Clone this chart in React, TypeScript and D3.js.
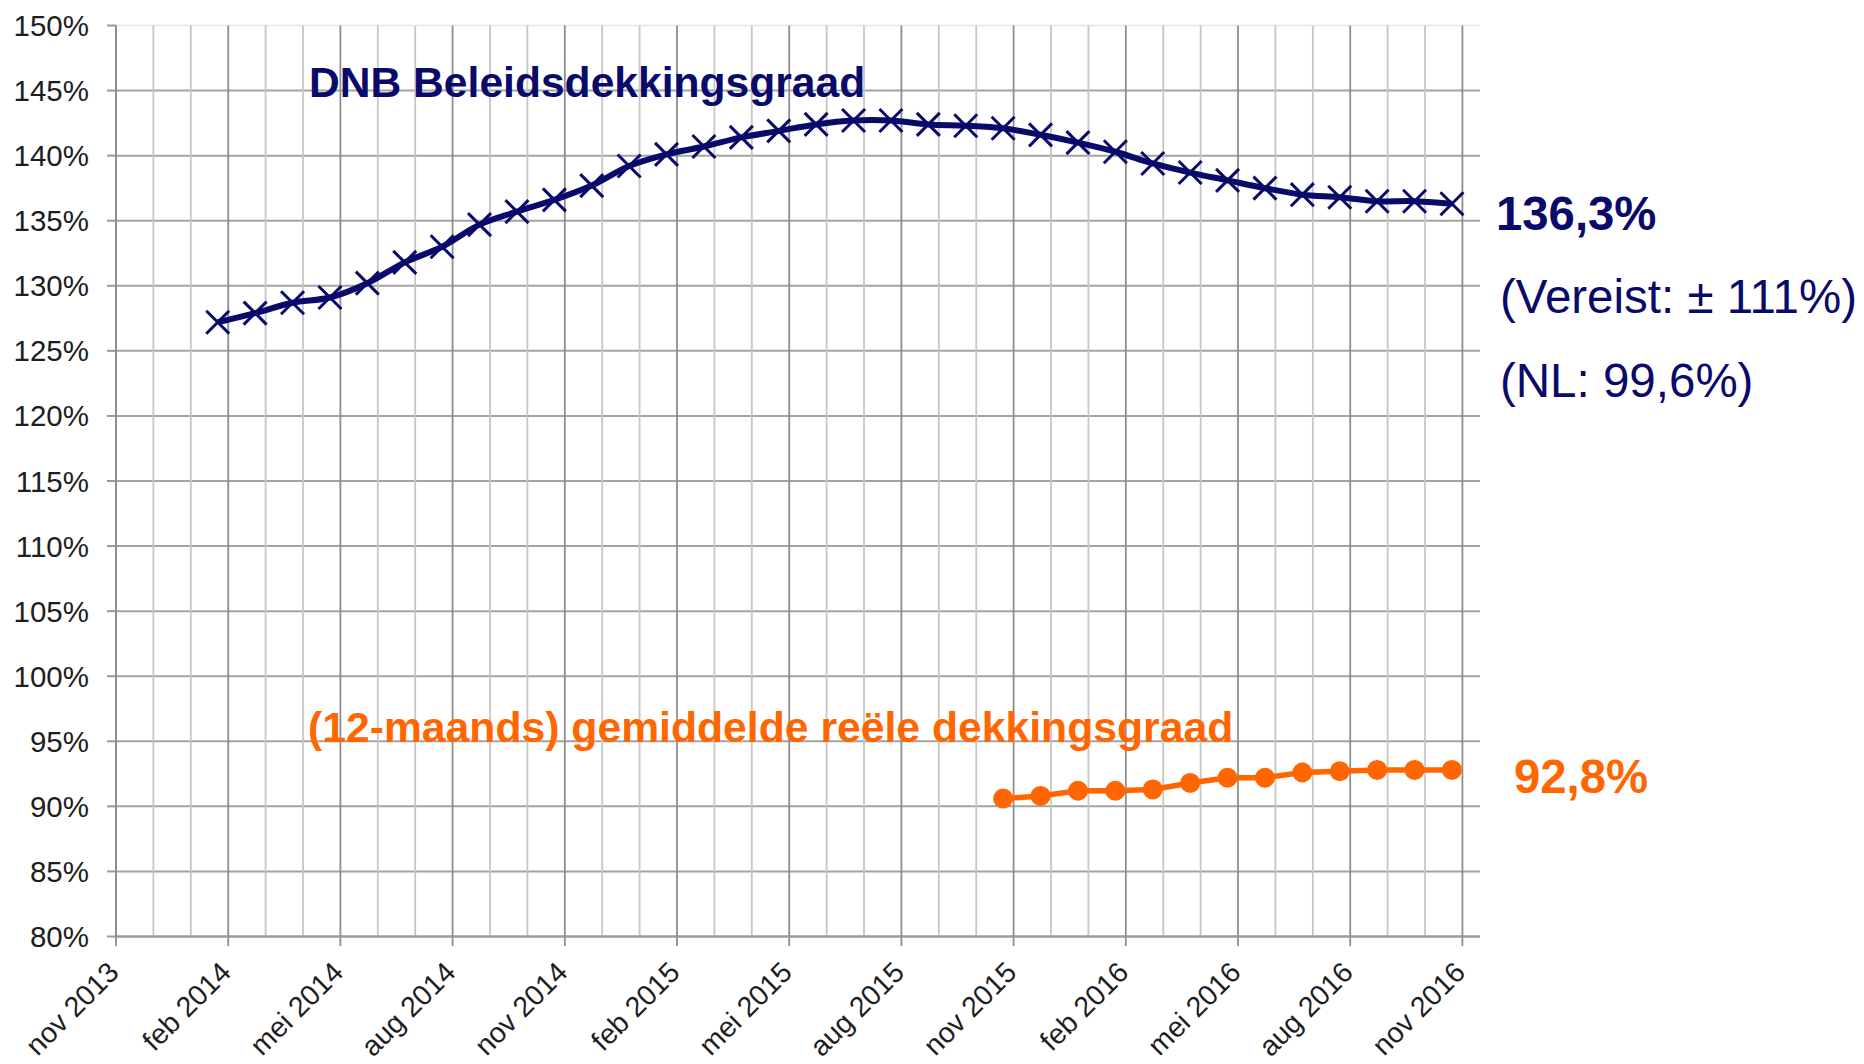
import * as d3 from 'd3'

const W = 1864
const H = 1064
const NAVY = '#0a0a6b'
const ORANGE = '#ff6600'
const FONT = "'Liberation Sans', Arial, Helvetica, sans-serif"

// month labels on the x axis (every 3 months, first = nov 2013)
const TICK_LABELS = [
  'nov 2013', 'feb 2014', 'mei 2014', 'aug 2014', 'nov 2014', 'feb 2015', 'mei 2015',
  'aug 2015', 'nov 2015', 'feb 2016', 'mei 2016', 'aug 2016', 'nov 2016'
]
const Y_TICKS = [80, 85, 90, 95, 100, 105, 110, 115, 120, 125, 130, 135, 140, 145, 150]

// DNB beleidsdekkingsgraad, jan 2014 .. okt 2016
const DNB_MONTHS = [
  '2014-01', '2014-02', '2014-03', '2014-04', '2014-05', '2014-06', '2014-07', '2014-08',
  '2014-09', '2014-10', '2014-11', '2014-12', '2015-01', '2015-02', '2015-03', '2015-04',
  '2015-05', '2015-06', '2015-07', '2015-08', '2015-09', '2015-10', '2015-11', '2015-12',
  '2016-01', '2016-02', '2016-03', '2016-04', '2016-05', '2016-06', '2016-07', '2016-08',
  '2016-09', '2016-10'
]
const DNB_VALUES = [
  127.2, 127.9, 128.7, 129.1, 130.2, 131.8, 133.0, 134.7, 135.7, 136.6, 137.7, 139.2,
  140.1, 140.7, 141.4, 141.9, 142.4, 142.7, 142.7, 142.4, 142.3, 142.1, 141.6, 141.0,
  140.3, 139.4, 138.7, 138.1, 137.5, 137.0, 136.8, 136.5, 136.5, 136.3
]

// 12-maands gemiddelde reële dekkingsgraad, okt 2015 .. okt 2016
const REAL_MONTHS = [
  '2015-10', '2015-11', '2015-12', '2016-01', '2016-02', '2016-03', '2016-04',
  '2016-05', '2016-06', '2016-07', '2016-08', '2016-09', '2016-10'
]
const REAL_VALUES = [90.6, 90.8, 91.2, 91.2, 91.3, 91.8, 92.2, 92.2, 92.6, 92.7, 92.8, 92.8, 92.8]

// points sit at ~the 22nd of their month
const POINT_POS = 0.72

// months since nov 2013
const monthIndex = (s: string) => {
  const [y, m] = s.split('-').map(Number)
  return (y - 2013) * 12 + (m - 11)
}

export default function App() {
  const x = d3.scaleLinear().domain([0, 36.47]).range([116, 1480])
  const y = d3.scaleLinear().domain([80, 150]).range([936.5, 25.5])

  const months = d3.range(0, 37)

  const dnb = DNB_MONTHS.map((m, i) => ({ x: x(monthIndex(m) + POINT_POS), y: y(DNB_VALUES[i]) }))
  const real = REAL_MONTHS.map((m, i) => ({ x: x(monthIndex(m) + POINT_POS), y: y(REAL_VALUES[i]) }))

  const smooth = d3.line<{ x: number; y: number }>()
    .x(d => d.x)
    .y(d => d.y)
    .curve(d3.curveCatmullRom.alpha(0.5))
  const straight = d3.line<{ x: number; y: number }>()
    .x(d => d.x)
    .y(d => d.y)

  const cross = d3.symbol(d3.symbolTimes, 347)()

  const [x0, x1] = x.range()
  const [yBottom, yTop] = y.range()

  return (
    <svg
      width={W}
      height={H}
      style={{ position: 'absolute', left: 0, top: 0, background: '#fff' }}
      fontFamily={FONT}
    >
      {/* horizontal grid */}
      {Y_TICKS.map(v => (
        <g key={`h-${v}`}>
          <line x1={x0 - 9} x2={x0} y1={y(v)} y2={y(v)} stroke="#9a9a9a" strokeWidth={2} />
          <line
            x1={x0}
            x2={x1}
            y1={y(v)}
            y2={y(v)}
            stroke={v === 150 ? '#ececec' : '#a3a3a3'}
            strokeWidth={2}
          />
        </g>
      ))}

      {/* vertical grid, one line per month */}
      {months.map(i => (
        <line
          key={`v-${i}`}
          x1={x(i)}
          x2={x(i)}
          y1={yTop}
          y2={yBottom}
          stroke={i % 3 === 0 ? '#8e8e8e' : '#c6c6c6'}
          strokeWidth={i === 0 ? 2 : 1.8}
        />
      ))}

      {/* x axis line + ticks */}
      <line x1={x0} x2={x1} y1={yBottom} y2={yBottom} stroke="#9a9a9a" strokeWidth={2.2} />
      {TICK_LABELS.map((lab, i) => (
        <g key={lab}>
          <line x1={x(i * 3)} x2={x(i * 3)} y1={yBottom} y2={yBottom + 9.5} stroke="#8e8e8e" strokeWidth={1.8} />
          <text
            transform={`translate(${x(i * 3) + 4.5},${yBottom + 37.5}) rotate(-45)`}
            textAnchor="end"
            fontSize={28.5}
            fill="#1e1e1e"
          >
            {lab}
          </text>
        </g>
      ))}

      {/* y labels */}
      {Y_TICKS.map(v => (
        <text key={`yl-${v}`} x={89} y={y(v) + 10.5} textAnchor="end" fontSize={29.5} fill="#1e1e1e">
          {`${v}%`}
        </text>
      ))}

      {/* series */}
      <path d={smooth(dnb) ?? ''} fill="none" stroke={NAVY} strokeWidth={6} />
      {dnb.map((p, i) => (
        <path
          key={`x-${i}`}
          d={cross ?? ''}
          transform={`translate(${p.x},${p.y})`}
          fill="none"
          stroke={NAVY}
          strokeWidth={3}
        />
      ))}

      <path d={straight(real) ?? ''} fill="none" stroke={ORANGE} strokeWidth={5.5} />
      {real.map((p, i) => (
        <circle key={`o-${i}`} cx={p.x} cy={p.y} r={10} fill={ORANGE} />
      ))}

      {/* annotations */}
      <text x={309} y={96.5} fontSize={42.6} fontWeight="bold" fill={NAVY}>
        DNB Beleidsdekkingsgraad
      </text>
      <text x={308} y={742} fontSize={42.7} fontWeight="bold" fill={ORANGE}>
        (12-maands) gemiddelde reële dekkingsgraad
      </text>

      <text x={1496} y={230} fontSize={47.3} fontWeight="bold" fill={NAVY}>
        136,3%
      </text>
      <text x={1500} y={313} fontSize={47.5} fill={NAVY}>
        (Vereist: ± 111%)
      </text>
      <text x={1500} y={397} fontSize={47.5} fill={NAVY}>
        (NL: 99,6%)
      </text>
      <text x={1514} y={793} fontSize={47.3} fontWeight="bold" fill={ORANGE}>
        92,8%
      </text>
    </svg>
  )
}
